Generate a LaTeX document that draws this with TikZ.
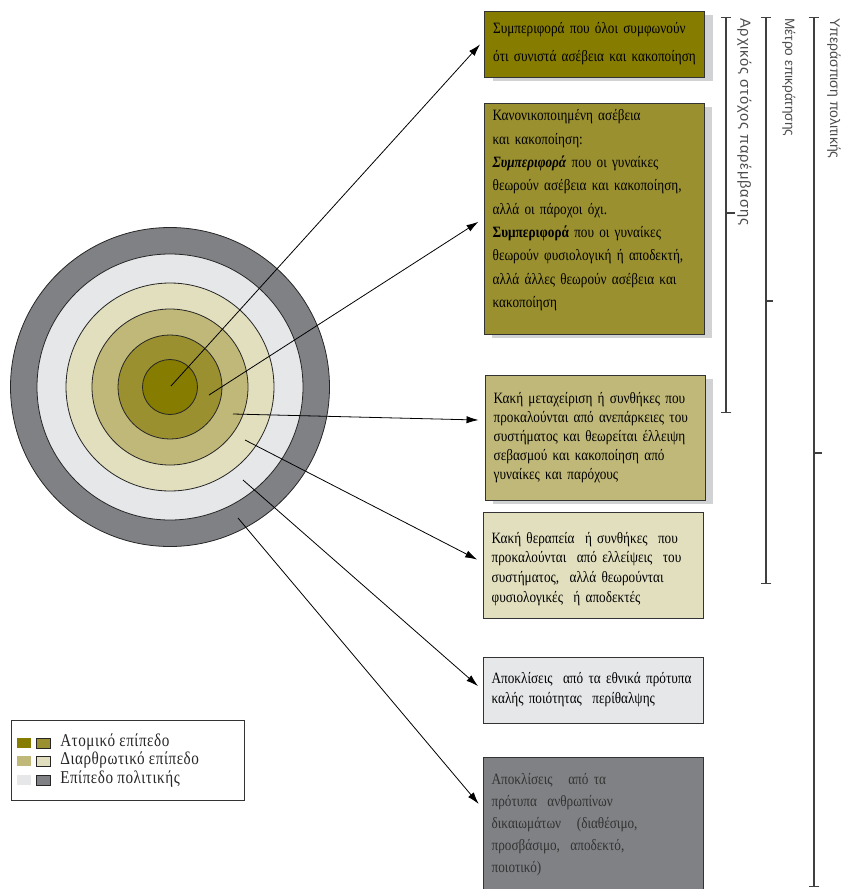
\documentclass[tikz,border=0pt]{standalone}
\usepackage{fontspec}
\setmainfont{Liberation Serif}[FakeStretch=0.84]
\newfontfamily\sidefont{Liberation Sans}
\usepackage{tikz}
\usetikzlibrary{arrows.meta,shadows}
\definecolor{lvlA}{HTML}{857C00}
\definecolor{lvlB}{HTML}{9A9030}
\definecolor{lvlC}{HTML}{C0B878}
\definecolor{lvlD}{HTML}{E2DFBF}
\definecolor{lvlE}{HTML}{E6E7E9}
\definecolor{lvlF}{HTML}{808184}
\definecolor{shade}{HTML}{D1D2D4}
\tikzstyle{line} = [draw, line width=0.6pt, -{Latex[length=9pt,width=5.5pt]}, shorten >=4.5pt]
\tikzstyle{ring} = [draw=black!85, line width=0.6pt]
\tikzstyle{box} = [draw=black!80, line width=0.7pt, rectangle, align=left, inner xsep=6.5pt, text width=152pt, font=\fontsize{11.8}{15}\selectfont, text=black]
\tikzstyle{boxshadow} = [drop shadow={shadow xshift=6pt, shadow yshift=-3pt, fill=shade, opacity=1}]
\tikzstyle{bracket} = [draw=black!75, line width=0.8pt, {Bar[width=8pt]}-{Bar[width=8pt]}]
\tikzstyle{tick} = [draw=black!75, line width=0.8pt]
\tikzstyle{sidelabel} = [rotate=-90, anchor=south west, inner sep=0pt, text=black!70]
\tikzstyle{swatch} = [minimum width=10.5pt, minimum height=7.5pt, inner sep=0pt]
\tikzstyle{legendtext} = [anchor=west, inner sep=0pt, font=\fontsize{13.5}{14}\selectfont\addfontfeatures{LetterSpace=3}, text=black!85]

\begin{document}
\begin{tikzpicture}[x=0.75pt, y=-0.75pt]
	\useasboundingbox (0, 0) rectangle (840, 889);
	\clip (0, 0) rectangle (840, 889);

	\filldraw[ring, fill=lvlF] (170, 387) circle (159.5);
	\filldraw[ring, fill=lvlE] (170, 387) circle (133);
	\filldraw[ring, fill=lvlD] (170, 387) circle (104);
	\filldraw[ring, fill=lvlC] (170, 387) circle (78);
	\filldraw[ring, fill=lvlB] (170, 387) circle (52);
	\filldraw[ring, fill=lvlA] (170, 387) circle (27.5);

	\coordinate (s1) at (171, 386);
	\coordinate (s2) at (209, 395);
	\coordinate (s3) at (233, 414);
	\coordinate (s4) at (245, 440);
	\coordinate (s5) at (243, 480);
	\coordinate (s6) at (238, 518);

	\node[box, boxshadow, fill=lvlA, minimum height=49.5pt, font=\fontsize{11.8}{21}\selectfont] (b1) at (594.5, 44) {Συμπεριφορά που όλοι συμφωνούν\\ότι συνιστά ασέβεια και κακοποίηση};
	\node[box, boxshadow, fill=lvlB, minimum height=173.25pt, font=\fontsize{11.8}{17.5}\selectfont] (b2) at (594, 218.5) {Κανονικοποιημένη ασέβεια\\και κακοποίηση:\\\textbf{\textit{Συμπεριφορά}} που οι γυναίκες\\θεωρούν ασέβεια και κακοποίηση,\\αλλά οι πάροχοι όχι.\\\textbf{Συμπεριφορά} που οι γυναίκες\\θεωρούν φυσιολογική ή αποδεκτή,\\αλλά άλλες θεωρούν ασέβεια και\\κακοποίηση\\[-2.5pt]\mbox{}};
	\node[box, boxshadow, fill=lvlC, minimum height=93.75pt, font=\fontsize{11.8}{14.25}\selectfont] (b3) at (595, 437.5) {Κακή μεταχείριση ή συνθήκες που\\προκαλούνται από ανεπάρκειες του\\συστήματος και θεωρείται έλλειψη\\σεβασμού και κακοποίηση από\\γυναίκες και παρόχους};
	\node[box, fill=lvlD, minimum height=79.5pt, font=\fontsize{11.8}{14.7}\selectfont] (b4) at (593, 565) {\mbox{}\\[-0.7pt]Κακή θεραπεία \ ή συνθήκες \ που\\προκαλούνται \ από ελλείψεις \ του\\συστήματος, \ αλλά θεωρούνται\\φυσιολογικές \ ή αποδεκτές};
	\node[box, fill=lvlE, minimum height=49.5pt] (b5) at (593, 690) {Αποκλίσεις \ από τα εθνικά πρότυπα\\καλής ποιότητας \ περίθαλψης};
	\node[box, fill=lvlF, minimum height=107.25pt, text=black!80, font=\fontsize{11.8}{16.5}\selectfont] (b6) at (593, 828.5) {Αποκλίσεις \ \ από τα\\πρότυπα \ ανθρωπίνων\\δικαιωμάτων \ \ (διαθέσιμο,\\προσβάσιμο, \ αποδεκτό,\\ποιοτικό)\\[-8.5pt]\mbox{}};

	\draw[line] (s1) -- ([yshift=3pt]b1.west);
	\draw[line] (s2) -- (b2.west);
	\draw[line] (s3) -- ([yshift=13pt]b3.west);
	\draw[line] (s4) -- ([yshift=2pt]b4.west);
	\draw[line] (s5) -- (b5.west);
	\draw[line] (s6) -- ([yshift=15pt]b6.west);

	\coordinate (r1top) at (726, 17);
	\coordinate (r1bot) at (726, 413);
	\coordinate (r2top) at (766, 17);
	\coordinate (r2bot) at (766, 584);
	\coordinate (r3top) at (814, 17);
	\coordinate (r3bot) at (814, 887);
	\draw[bracket] (r1top) -- (r1bot);
	\draw[bracket] (r2top) -- (r2bot);
	\draw[bracket] (r3top) -- (r3bot);
	\draw[tick] (726, 213) -- ++(9, 0);
	\draw[tick] (766, 301) -- ++(7, 0);
	\draw[tick] (814, 453) -- ++(8, 0);
	\node[sidelabel, font=\sidefont\fontsize{11}{12}\selectfont\addfontfeatures{LetterSpace=6}] (l1) at (737, 18) {Αρχικός στόχος παρέμβασης};
	\node[sidelabel, font=\sidefont\fontsize{10.2}{12}\selectfont] (l2) at (782, 18) {Μέτρο επικράτησης};
	\node[sidelabel, font=\sidefont\fontsize{10.5}{12}\selectfont] (l3) at (827, 18) {Υπεράσπιση πολιτικής};

	\draw[draw=black!80, line width=0.7pt] (11, 720) rectangle (244, 800);
	\node[swatch, fill=lvlA] (k1a) at (24, 743) {};
	\node[swatch, fill=lvlB, draw=black!85, line width=0.6pt] (k1b) at (43, 743) {};
	\node[legendtext] (t1) at (60, 742) {Ατομικό επίπεδο};
	\node[swatch, fill=lvlC] (k2a) at (24, 761) {};
	\node[swatch, fill=lvlD, draw=black!85, line width=0.6pt] (k2b) at (43, 761) {};
	\node[legendtext] (t2) at (60, 760) {Διαρθρωτικό επίπεδο};
	\node[swatch, fill=lvlE] (k3a) at (24, 780) {};
	\node[swatch, fill=lvlF, draw=black!85, line width=0.6pt] (k3b) at (43, 780) {};
	\node[legendtext] (t3) at (60, 779) {Επίπεδο πολιτικής};
\end{tikzpicture}
\end{document}
